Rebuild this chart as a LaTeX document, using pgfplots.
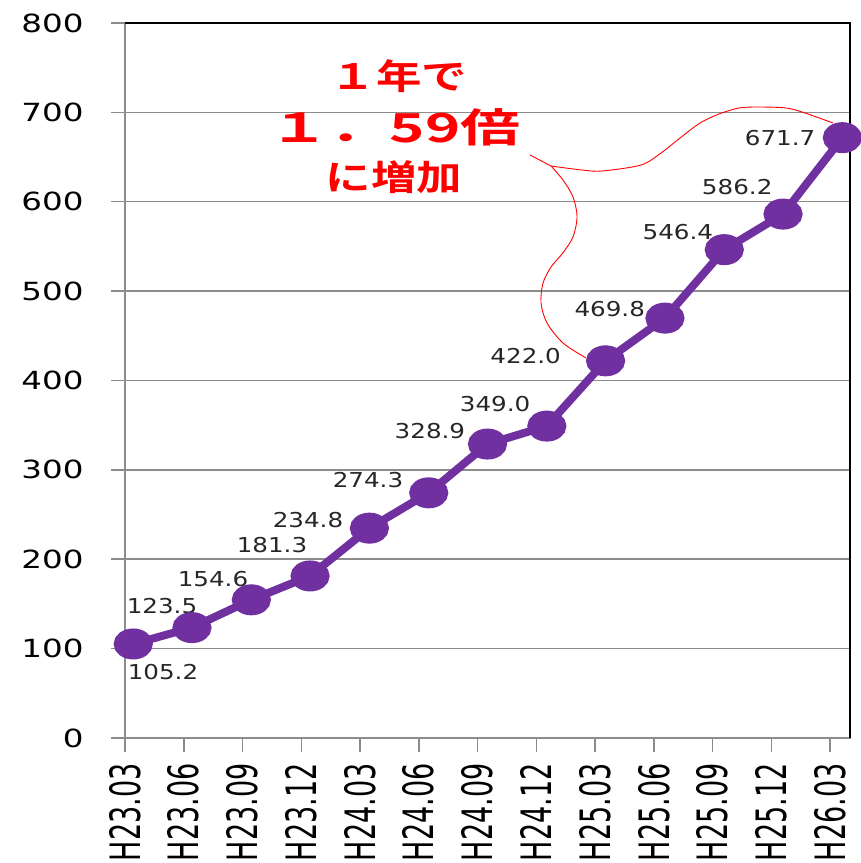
\documentclass[border=0pt]{standalone}
\usepackage{graphicx}
\usepackage{pgfplots}
\pgfplotsset{compat=1.18}
\usepackage{fontspec}
\setmainfont{DejaVu Sans}
\newfontfamily\ylab{DejaVu Sans}[FakeStretch=1.3]
\newfontfamily\dlab{DejaVu Sans}[FakeStretch=1.2]
\newfontfamily\jpa{Noto Sans CJK JP Bold}[FakeStretch=1.3]
\newfontfamily\jpb{Noto Sans CJK JP Bold}[FakeStretch=1.5]
\definecolor{purp}{HTML}{7030A0}
\definecolor{gridgray}{HTML}{8C8C8C}
\newcommand{\xl}[1]{\scalebox{1}[1.55]{#1}}
\begin{document}
\begin{tikzpicture}
\begin{axis}[
  scale only axis, width=725pt, height=715pt,
  xmin=0, xmax=12.34, ymin=0, ymax=800,
  xtick={0,...,12},
  xticklabels={\xl{H23.03},\xl{H23.06},\xl{H23.09},\xl{H23.12},\xl{H24.03},\xl{H24.06},\xl{H24.09},\xl{H24.12},\xl{H25.03},\xl{H25.06},\xl{H25.09},\xl{H25.12},\xl{H26.03}},
  ytick={0,100,...,800},
  ymajorgrids, grid style={line width=1.5pt, gridgray},
  axis line style={line width=1.5pt, gridgray},
  tick style={line width=1.5pt, gridgray},
  tick pos=left, tick align=outside, major tick length=14pt,
  /pgf/number format/assume math mode=true,
  y tick label style={font=\ylab\fontsize{25}{25}\selectfont, text=black},
  yticklabel shift=24pt,
  x tick label style={font=\fontsize{27}{27}\selectfont, rotate=90, anchor=east, text=black},
  xticklabel shift=8pt,
  clip=false,
]
\addplot[purp, line width=8pt, mark=*, mark size=11.5pt, mark options={fill=purp, draw=none, xscale=1.35}]
coordinates {(0.14,105.2) (1.14,123.5) (2.15,154.6) (3.15,181.3) (4.16,234.8) (5.17,274.3) (6.17,328.9) (7.18,349.0) (8.18,422.0) (9.19,469.8) (10.20,546.4) (11.20,586.2) (12.21,671.7)};
\draw[black, line width=1.5pt] (rel axis cs:0,1) -- (rel axis cs:1,1) -- (rel axis cs:1,0);
\begin{scope}[every node/.style={font=\dlab\fontsize{20.5}{20.5}\selectfont, text=black!85}]
\node at (axis cs:0.647,73.8) {105.2};
\node at (axis cs:0.63,147.7) {123.5};
\node at (axis cs:1.498,177.9) {154.6};
\node at (axis cs:2.502,216) {181.3};
\node at (axis cs:3.115,243.9) {234.8};
\node at (axis cs:4.136,288.7) {274.3};
\node at (axis cs:5.19,343.5) {328.9};
\node at (axis cs:6.30,373.7) {349.0};
\node at (axis cs:6.82,427.3) {422.0};
\node at (axis cs:8.25,480.0) {469.8};
\node at (axis cs:9.41,566) {546.4};
\node at (axis cs:10.42,616.3) {586.2};
\node at (axis cs:11.15,671) {671.7};
\end{scope}
\node[font=\jpa\fontsize{35}{35}\selectfont, text=red] at (axis cs:4.66,740.5) {１年で};
\node[font=\jpb\fontsize{40}{40}\selectfont, text=red] at (axis cs:4.60,683) {１．59倍};
\node[font=\jpa\fontsize{35}{35}\selectfont, text=red] at (axis cs:4.58,627) {に増加};
\draw[red, line width=0.9pt] (axis cs:6.894,652.3) -- (axis cs:7.251,640);
\draw[red, line width=0.9pt] plot[smooth] coordinates {(axis cs:7.251,640) (axis cs:7.779,635.5) (axis cs:8.119,634.4) (axis cs:8.783,641.1) (axis cs:9.123,654.5) (axis cs:9.447,671.3) (axis cs:9.787,688.1) (axis cs:10.111,698.2) (axis cs:10.451,704.9) (axis cs:10.774,706.0) (axis cs:11.251,704.9) (axis cs:11.574,699.3) (axis cs:12.051,688.1)};
\draw[red, line width=0.9pt] plot[smooth] coordinates {(axis cs:7.251,640) (axis cs:7.455,624.3) (axis cs:7.626,605.3) (axis cs:7.694,583.2) (axis cs:7.626,560.8) (axis cs:7.455,542.9) (axis cs:7.251,527.0) (axis cs:7.115,509.1) (axis cs:7.081,486.7) (axis cs:7.183,464.3) (axis cs:7.455,441.9) (axis cs:7.847,425.2)};
\end{axis}
\pgfresetboundingbox
\path ([shift={(-125pt,-125pt)}]current axis.south west) rectangle ([shift={(10pt,23pt)}]current axis.north east);
\end{tikzpicture}
\end{document}
